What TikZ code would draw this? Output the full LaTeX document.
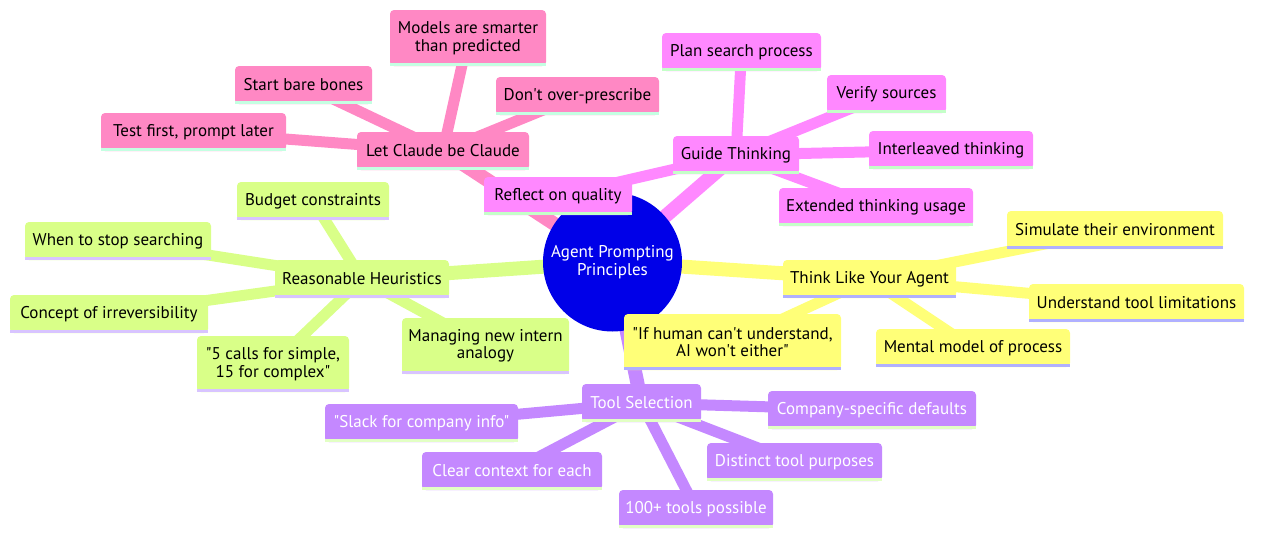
\documentclass[tikz,border=0pt]{standalone}
\usepackage{fontspec}
\setmainfont{PT Sans}[Ligatures=TeXOff]
\pgfdeclarelayer{back}
\pgfdeclarelayer{bg}
\pgfsetlayers{back,bg,main}
\definecolor{pk}{HTML}{FF88C4}
\definecolor{pku}{HTML}{C4FFE2}
\definecolor{mg}{HTML}{FF88FF}
\definecolor{mgu}{HTML}{C4FFC8}
\definecolor{lm}{HTML}{D9FF88}
\definecolor{lmu}{HTML}{D8C4FF}
\definecolor{yl}{HTML}{FFFF78}
\definecolor{ylu}{HTML}{B0B0FF}
\definecolor{pu}{HTML}{C488FF}
\definecolor{puu}{HTML}{E2FFC4}
\definecolor{rootblue}{HTML}{0000E8}
\tikzset{
  mmbox/.style={draw=none, rounded corners=4pt, inner sep=0pt, align=center,
    font=\fontsize{17}{17.5}\selectfont},
  rootnode/.style={circle, fill=rootblue, text=white, inner sep=0pt, align=center,
    minimum size=139pt, font=\fontsize{17}{17.5}\selectfont},
  trunk/.style={line width=14pt},
  twig/.style={line width=11pt}
}
\newcommand\mmbox[9]{%
  \node[mmbox, fill=#6, text=#8, minimum width=#4pt, minimum height=#5pt] (#1) at (#2,#3) {#9};
  \fill[#7] ([yshift=3.5pt]#1.south west) rectangle (#1.south east);}
\begin{document}
\begin{tikzpicture}[x=1pt,y=-1pt]
\begin{pgfonlayer}{back}
\fill[white] (0,0) rectangle (1262,541);
\end{pgfonlayer}
\useasboundingbox (0,0) rectangle (1262,541);
\node[rootnode] (root) at (612.5,262) {Agent Prompting\\Principles};
% Let Claude be Claude
\mmbox{lc}{443}{151}{172}{38}{pk}{pku}{black}{Let Claude be Claude}
\mmbox{models}{468}{38}{156}{56}{pk}{pku}{black}{Models are smarter\\than predicted}
\mmbox{bones}{303.5}{85}{137}{38}{pk}{pku}{black}{Start bare bones}
\mmbox{prescribe}{577.5}{96}{163}{38}{pk}{pku}{black}{Don't over-prescribe}
\mmbox{testfirst}{193.5}{132}{185}{38}{pk}{pku}{black}{Test first, prompt later}
% Guide Thinking
\mmbox{gt}{736}{155}{126}{38}{mg}{mgu}{black}{Guide Thinking}
\mmbox{plan}{741.5}{52}{159}{38}{mg}{mgu}{black}{Plan search process}
\mmbox{verify}{886.5}{94}{119}{38}{mg}{mgu}{black}{Verify sources}
\mmbox{interleaved}{951}{150}{164}{38}{mg}{mgu}{black}{Interleaved thinking}
\mmbox{extended}{876}{207}{194}{38}{mg}{mgu}{black}{Extended thinking usage}
\mmbox{reflect}{558}{196}{148}{38}{mg}{mgu}{black}{Reflect on quality}
% Think Like Your Agent
\mmbox{tl}{869.5}{279}{173}{38}{yl}{ylu}{black}{Think Like Your Agent}
\mmbox{simulate}{1115}{230}{216}{38}{yl}{ylu}{black}{Simulate their environment}
\mmbox{understand}{1136.5}{303}{215}{38}{yl}{ylu}{black}{Understand tool limitations}
\mmbox{mental}{973}{348}{194}{38}{yl}{ylu}{black}{Mental model of process}
\mmbox{ifhuman}{732.5}{342}{217}{56}{yl}{ylu}{black}{"If human can't understand,\\AI won't either"}
% Reasonable Heuristics
\mmbox{rh}{362}{279}{174}{38}{lm}{lmu}{black}{Reasonable Heuristics}
\mmbox{budget}{313}{201}{152}{38}{lm}{lmu}{black}{Budget constraints}
\mmbox{whenstop}{118}{241}{186}{38}{lm}{lmu}{black}{When to stop searching}
\mmbox{concept}{109}{314}{198}{38}{lm}{lmu}{black}{Concept of irreversibility}
\mmbox{fivecalls}{273}{364}{152}{56}{lm}{lmu}{black}{"5 calls for simple,\\15 for complex"}
\mmbox{managing}{485.5}{346}{167}{56}{lm}{lmu}{black}{Managing new intern\\analogy}
% Tool Selection
\mmbox{ts}{641.5}{403}{119}{38}{pu}{puu}{white}{Tool Selection}
\mmbox{slack}{421.5}{423}{193}{38}{pu}{puu}{white}{"Slack for company info"}
\mmbox{company}{872}{410}{208}{38}{pu}{puu}{white}{Company-specific defaults}
\mmbox{clear}{512}{471}{180}{38}{pu}{puu}{white}{Clear context for each}
\mmbox{distinct}{794.5}{462}{175}{38}{pu}{puu}{white}{Distinct tool purposes}
\mmbox{hundred}{696}{509}{154}{38}{pu}{puu}{white}{100+ tools possible}
\begin{pgfonlayer}{bg}
\draw[pk,trunk] (root.center) -- (lc.center);
\foreach \n in {models,bones,prescribe,testfirst} \draw[pk,twig] (lc.center) -- (\n.center);
\draw[mg,trunk] (root.center) -- (gt.center);
\foreach \n in {plan,verify,interleaved,extended,reflect} \draw[mg,twig] (gt.center) -- (\n.center);
\draw[yl,trunk] (root.center) -- (tl.center);
\foreach \n in {simulate,understand,mental,ifhuman} \draw[yl,twig] (tl.center) -- (\n.center);
\draw[lm,trunk] (root.center) -- (rh.center);
\foreach \n in {budget,whenstop,concept,fivecalls,managing} \draw[lm,twig] (rh.center) -- (\n.center);
\draw[pu,trunk] (root.center) -- (ts.center);
\foreach \n in {slack,company,clear,distinct,hundred} \draw[pu,twig] (ts.center) -- (\n.center);
\end{pgfonlayer}
\end{tikzpicture}
\end{document}
